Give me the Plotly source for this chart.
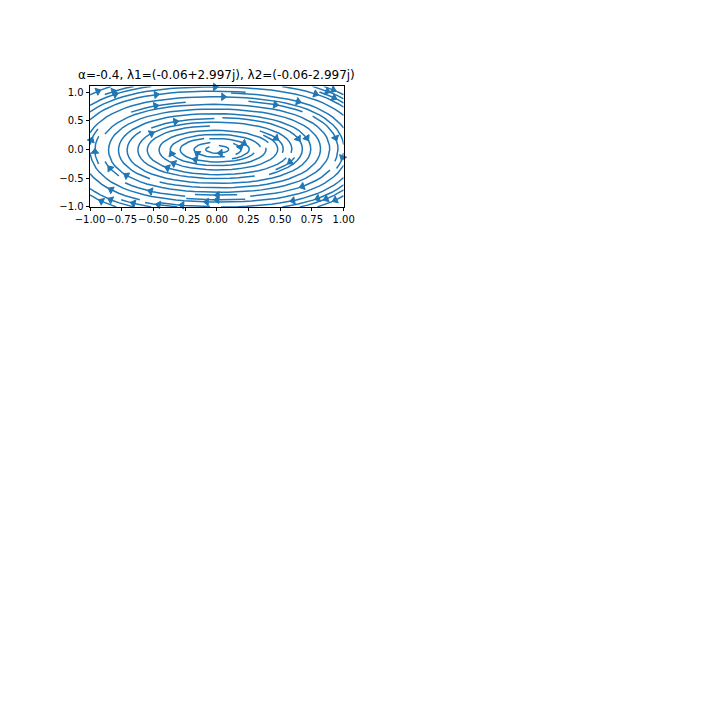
import numpy as np
import plotly.graph_objects as go

# ---------------- data ----------------
ALPHA = -0.4
LAMBDA_RE = -0.06          # real part of eigenvalues
LAMBDA_IM = 2.997          # imaginary part of eigenvalues
AXIS_RATIO = 1.4           # estimated x/y semi-axis ratio of the small orbits
CUBIC_X = 0.8              # estimated stiffening of the orbits far from the centre
GRID_X = np.linspace(-1.0, 1.0, 21)
GRID_Y = np.linspace(-1.0, 1.1, 22)
DENSITY = 1.0
X_TICKS = [-1.0, -0.75, -0.5, -0.25, 0.0, 0.25, 0.5, 0.75, 1.0]
X_TICK_TEXT = ["\u22121.00", "\u22120.75", "\u22120.50", "\u22120.25", "0.00",
               "0.25", "0.50", "0.75", "1.00"]
Y_TICKS = [-1.0, -0.5, 0.0, 0.5, 1.0]
Y_TICK_TEXT = ["\u22121.0", "\u22120.5", "0.0", "0.5", "1.0"]
TITLE = "\u03b1=-0.4, \u03bb1=(-0.06+2.997j), \u03bb2=(-0.06-2.997j)"
COLOR = "#1f77b4"

# ---------------- vector field ----------------
XX, YY = np.meshgrid(GRID_X, GRID_Y)
U = LAMBDA_RE * XX + LAMBDA_IM * AXIS_RATIO * YY
V = -LAMBDA_IM * (XX / AXIS_RATIO + CUBIC_X * XX ** 3) + LAMBDA_RE * YY


# ---------------- streamline integration (matplotlib-style) ----------------
class OutOfBounds(Exception):
    pass


class Terminate(Exception):
    pass


class InvalidIndex(Exception):
    pass


nx, ny = len(GRID_X), len(GRID_Y)
gdx = GRID_X[1] - GRID_X[0]
gdy = GRID_Y[1] - GRID_Y[0]
mnx = mny = int(30 * DENSITY)
mask = np.zeros((mny, mnx))
x_g2m = (mnx - 1) / (nx - 1)
y_g2m = (mny - 1) / (ny - 1)
x_m2g = 1.0 / x_g2m
y_m2g = 1.0 / y_g2m
state = {"traj": [], "cur": None}


def within(xi, yi):
    return 0 <= xi <= nx - 1 and 0 <= yi <= ny - 1


def g2m(xi, yi):
    return int(round(float(xi * x_g2m))), int(round(float(yi * y_g2m)))


def m_update(xm, ym):
    if state["cur"] != (xm, ym):
        if mask[ym, xm] == 0:
            state["traj"].append((ym, xm))
            mask[ym, xm] = 1
            state["cur"] = (xm, ym)
        else:
            raise InvalidIndex


def start_traj(xg, yg):
    xm, ym = g2m(xg, yg)
    state["traj"] = []
    m_update(xm, ym)


def reset_start(xg, yg):
    state["cur"] = g2m(xg, yg)


def update_traj(xg, yg):
    if not within(xg, yg):
        raise InvalidIndex
    xm, ym = g2m(xg, yg)
    m_update(xm, ym)


def undo_traj():
    for t in state["traj"]:
        mask[t] = 0


ug = U / gdx
vg = V / gdy
speed = np.sqrt((ug / (nx - 1)) ** 2 + (vg / (ny - 1)) ** 2)


def interp(a, xi, yi):
    Ny, Nx = a.shape
    x = int(xi)
    y = int(yi)
    xn = x if x == Nx - 1 else x + 1
    yn = y if y == Ny - 1 else y + 1
    a00 = a[y, x]
    a01 = a[y, xn]
    a10 = a[yn, x]
    a11 = a[yn, xn]
    xt = xi - x
    yt = yi - y
    a0 = a00 * (1 - xt) + a01 * xt
    a1 = a10 * (1 - xt) + a11 * xt
    return a0 * (1 - yt) + a1 * yt


def forward_time(xi, yi):
    if not within(xi, yi):
        raise OutOfBounds
    ds_dt = interp(speed, xi, yi)
    if ds_dt == 0:
        raise Terminate
    dt_ds = 1.0 / ds_dt
    return interp(ug, xi, yi) * dt_ds, interp(vg, xi, yi) * dt_ds


def backward_time(xi, yi):
    a, b = forward_time(xi, yi)
    return -a, -b


def euler_step(traj, f):
    xi, yi = traj[-1]
    cx, cy = f(xi, yi)
    if cx == 0:
        dsx = np.inf
    elif cx < 0:
        dsx = xi / -cx
    else:
        dsx = (nx - 1 - xi) / cx
    if cy == 0:
        dsy = np.inf
    elif cy < 0:
        dsy = yi / -cy
    else:
        dsy = (ny - 1 - yi) / cy
    ds = min(dsx, dsy)
    traj.append((xi + cx * ds, yi + cy * ds))
    return ds, traj


def rk12(x0, y0, f, maxlength):
    maxerror = 0.003
    maxds = min(1.0 / mnx, 1.0 / mny, 0.1)
    ds = maxds
    stotal = 0.0
    xi, yi = x0, y0
    traj = []
    while True:
        try:
            if within(xi, yi):
                traj.append((xi, yi))
            else:
                raise OutOfBounds
            k1x, k1y = f(xi, yi)
            k2x, k2y = f(xi + ds * k1x, yi + ds * k1y)
        except OutOfBounds:
            if traj:
                ds, traj = euler_step(traj, f)
                stotal += ds
            break
        except Terminate:
            break
        dx1 = ds * k1x
        dy1 = ds * k1y
        dx2 = ds * 0.5 * (k1x + k2x)
        dy2 = ds * 0.5 * (k1y + k2y)
        error = np.hypot((dx2 - dx1) / (nx - 1), (dy2 - dy1) / (ny - 1))
        if error < maxerror:
            xi += dx2
            yi += dy2
            try:
                update_traj(xi, yi)
            except InvalidIndex:
                break
            if stotal + ds > maxlength:
                break
            stotal += ds
        if error == 0:
            ds = maxds
        else:
            ds = min(maxds, 0.85 * ds * (maxerror / error) ** 0.5)
    return stotal, traj


def integrate(x0, y0, minlength=0.1, maxlength=4.0):
    try:
        start_traj(x0, y0)
    except InvalidIndex:
        return None
    stotal = 0.0
    out = []
    s, t = rk12(x0, y0, backward_time, maxlength)
    stotal += s
    out += t[::-1]
    reset_start(x0, y0)
    s, t = rk12(x0, y0, forward_time, maxlength)
    stotal += s
    out += t[1:]
    if stotal > minlength:
        return np.array(out, dtype=float).reshape(-1, 2)
    undo_traj()
    return None


def starting_points(shape):
    mny_, mnx_ = shape
    xfirst, yfirst = 0, 1
    xlast, ylast = mnx_ - 1, mny_ - 1
    x, y = 0, 0
    direction = "right"
    for _ in range(mnx_ * mny_):
        yield x, y
        if direction == "right":
            x += 1
            if x >= xlast:
                xlast -= 1
                direction = "up"
        elif direction == "up":
            y += 1
            if y >= ylast:
                ylast -= 1
                direction = "left"
        elif direction == "left":
            x -= 1
            if x <= xfirst:
                xfirst += 1
                direction = "down"
        elif direction == "down":
            y -= 1
            if y <= yfirst:
                yfirst += 1
                direction = "right"


trajectories = []
for xm, ym in starting_points(mask.shape):
    if mask[ym, xm] == 0:
        t = integrate(xm * x_m2g, ym * y_m2g)
        if t is not None:
            trajectories.append(t)

# ---------------- figure geometry ----------------
W = H = 720
X_DOM = [0.125, 0.125 + 0.775 / 2.2]
H_AX = 0.77 / 4.6
Y_DOM = [0.88 - H_AX, 0.88]
X_RANGE = [GRID_X[0], GRID_X[-1]]
Y_RANGE = [GRID_Y[0], GRID_Y[-1]]
px_per_x = (X_DOM[1] - X_DOM[0]) * W / (X_RANGE[1] - X_RANGE[0])
px_per_y = (Y_DOM[1] - Y_DOM[0]) * H / (Y_RANGE[1] - Y_RANGE[0])

line_x, line_y = [], []
ax_x, ax_y, ang = [], [], []
for t in trajectories:
    tx = t[:, 0] * gdx + GRID_X[0]
    ty = t[:, 1] * gdy + GRID_Y[0]
    line_x += list(tx) + [None]
    line_y += list(ty) + [None]
    s = np.cumsum(np.hypot(np.diff(tx), np.diff(ty)))
    n = int(np.searchsorted(s, s[-1] / 2.0))
    hx = float(np.mean(tx[n:n + 2]))
    hy = float(np.mean(ty[n:n + 2]))
    ddx = (tx[min(n + 1, len(tx) - 1)] - tx[n]) * px_per_x
    ddy = (ty[min(n + 1, len(ty) - 1)] - ty[n]) * px_per_y
    if ddx == 0 and ddy == 0:
        continue
    a = np.degrees(np.arctan2(ddx, ddy))
    L = np.hypot(ddx, ddy)
    hx -= 1.5 * ddx / L / px_per_x
    hy -= 1.5 * ddy / L / px_per_y
    ax_x.append(hx)
    ax_y.append(hy)
    ang.append(float(a))

fig = go.Figure()
fig.add_trace(go.Scatter(x=line_x, y=line_y, mode="lines",
                         line=dict(color=COLOR, width=1.5),
                         hoverinfo="skip", showlegend=False))
fig.add_trace(go.Scatter(x=ax_x, y=ax_y, mode="markers",
                         marker=dict(symbol="triangle-up", size=6.5, angle=ang,
                                     color=COLOR, line=dict(color=COLOR, width=1)),
                         hoverinfo="skip", showlegend=False, cliponaxis=False))

axis_common = dict(showgrid=False, zeroline=False, showline=True, mirror=True,
                   linecolor="black", linewidth=0.8, ticks="outside", ticklen=3.5,
                   tickwidth=0.8, tickcolor="black", automargin=False, tickangle=0,
                   tickfont=dict(family="DejaVu Sans", size=10, color="black"))
fig.update_layout(
    width=W, height=H, margin=dict(l=0, r=0, t=0, b=0),
    paper_bgcolor="white", plot_bgcolor="white",
    xaxis=dict(domain=X_DOM, range=X_RANGE, tickvals=X_TICKS, ticktext=X_TICK_TEXT,
               **axis_common),
    yaxis=dict(domain=Y_DOM, range=Y_RANGE, tickvals=Y_TICKS, ticktext=Y_TICK_TEXT,
               **axis_common),
    annotations=[dict(text=TITLE, xref="paper", yref="paper",
                      x=(X_DOM[0] + X_DOM[1]) / 2, y=Y_DOM[1] + 2 / H,
                      xanchor="center", yanchor="bottom", showarrow=False,
                      font=dict(family="DejaVu Sans", size=12, color="black"))],
)
fig.write_html("out.html")
